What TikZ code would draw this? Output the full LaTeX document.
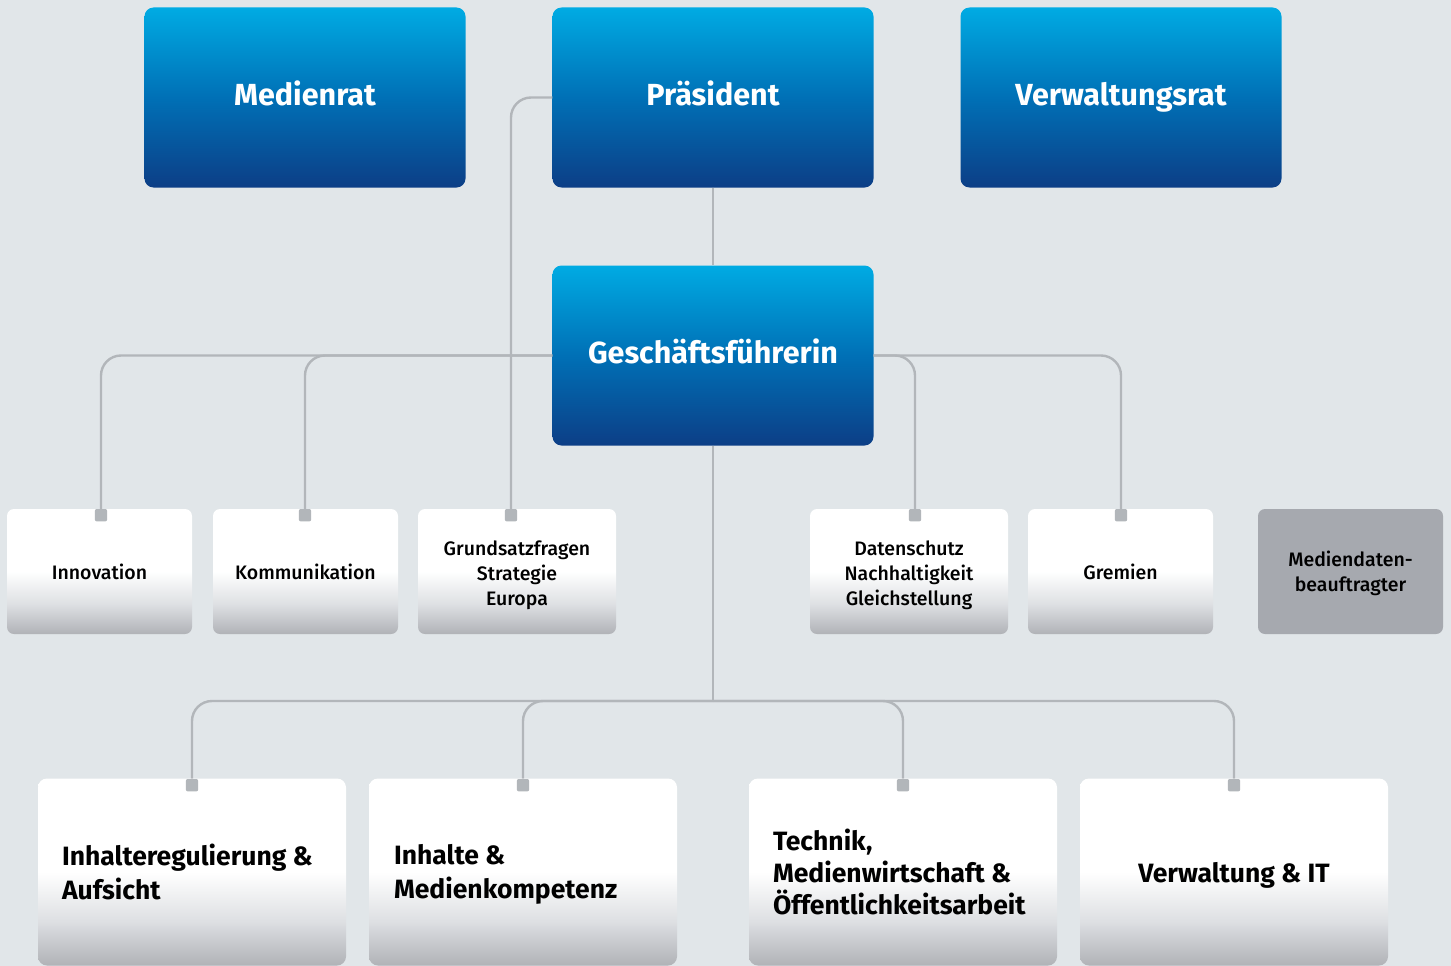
\documentclass[tikz,border=0pt]{standalone}
\usepackage{fontspec}
\setmainfont{Fira Sans}
\newfontfamily\firamed{Fira Sans Medium}
\definecolor{bg}{RGB}{225,230,233}
\definecolor{blueT}{RGB}{0,171,227}
\definecolor{blueM}{RGB}{0,112,182}
\definecolor{blueB}{RGB}{12,62,134}
\definecolor{lineC}{RGB}{178,182,186}
\definecolor{grayB}{RGB}{176,178,183}
\definecolor{grayM}{RGB}{222,224,227}
\definecolor{boxG}{RGB}{166,169,175}
\pgfdeclareverticalshading{blueshade}{100bp}{color(0bp)=(blueB); color(25bp)=(blueB); color(50bp)=(blueM); color(75bp)=(blueT); color(100bp)=(blueT)}
\pgfdeclareverticalshading{whiteshade}{100bp}{color(0bp)=(grayB); color(25bp)=(grayB); color(37bp)=(grayM); color(50bp)=(white); color(100bp)=(white)}
\begin{document}
\begin{tikzpicture}[x=1pt,y=-1pt,
  bluebox/.style={shading=blueshade, rounded corners=9pt, minimum width=321pt, minimum height=180pt, inner sep=0pt, text=white, text height=22pt, text depth=7pt, font=\bfseries\fontsize{30.5}{36}\selectfont},
  smallbox/.style={shading=whiteshade, rounded corners=7pt, minimum height=125pt, inner sep=0pt, align=center, font=\firamed\fontsize{19.5}{25}\selectfont},
  graybox/.style={fill=boxG, rounded corners=7pt, minimum height=125pt, minimum width=185pt, inner sep=0pt},
  smalltext/.style={inner sep=0pt, align=center, font=\firamed\fontsize{19.5}{25}\selectfont},
  bigbox/.style={shading=whiteshade, rounded corners=9pt, minimum width=308pt, minimum height=187pt, inner sep=0pt},
  bigtext/.style={align=left, inner sep=0pt, font=\bfseries\fontsize{26.5}{34}\selectfont},
  conn/.style={draw=lineC, line width=2.4pt, rounded corners=20pt},
  tabsq/.style={fill=lineC, rounded corners=2pt, minimum size=12pt, inner sep=0pt, anchor=north}]
\fill[bg] (0,0) rectangle (1451,966);
\useasboundingbox (0,0) rectangle (1451,966);
% top level
\node[bluebox] (MR) at (305,97.5) {Medienrat};
\node[bluebox] (PR) at (713,97.5) {Präsident};
\node[bluebox] (VR) at (1121,97.5) {Verwaltungsrat};
\node[bluebox] (GF) at (713,355.5) {Geschäftsführerin};
% tabs
\node[tabsq] (tIn) at (101,509) {};
\node[tabsq] (tKo) at (305,509) {};
\node[tabsq] (tGr) at (511,509) {};
\node[tabsq] (tDa) at (915,509) {};
\node[tabsq] (tGm) at (1121,509) {};
\node[tabsq] (tB1) at (192,779) {};
\node[tabsq] (tB2) at (523,779) {};
\node[tabsq] (tB3) at (903,779) {};
\node[tabsq] (tB4) at (1234,779) {};
\coordinate (hub) at (713,701);
% connectors
\draw[conn] (PR.south) -- (GF.north);
\draw[conn] (PR.west) -| (tGr.north);
\draw[conn] (GF.west) -| (tIn.north);
\draw[conn] (GF.west) -| (tKo.north);
\draw[conn] (GF.east) -| (tDa.north);
\draw[conn] (GF.east) -| (tGm.north);
\draw[conn] (GF.south) -- (hub);
\draw[conn] (hub) -| (tB1.north);
\draw[conn] (hub) -| (tB2.north);
\draw[conn] (hub) -| (tB3.north);
\draw[conn] (hub) -| (tB4.north);
% small boxes
\node[smallbox, minimum width=185pt] (In) at (99.5,571.5) {Innovation};
\node[smallbox, minimum width=185pt] (Ko) at (305.5,571.5) {Kommunikation};
\node[smallbox, minimum width=198pt] (Gr) at (517,571.5) {};
\node[smallbox, minimum width=198pt] (Da) at (909,571.5) {};
\node[smallbox, minimum width=185pt] (Gm) at (1120.5,571.5) {Gremien};
\node[graybox] (Md) at (1350.5,571.5) {};
\node[smalltext] (GrT) at ([yshift=-4pt]Gr.center) {Grundsatzfragen\\Strategie\\Europa};
\node[smalltext] (DaT) at ([yshift=-4pt]Da.center) {Datenschutz\\Nachhaltigkeit\\Gleichstellung};
\node[smalltext] (MdT) at ([yshift=-2pt]Md.center) {Mediendaten-\\beauftragter};
% bottom boxes
\node[bigbox] (B1) at (192,872) {};
\node[bigbox] (B2) at (523,872) {};
\node[bigbox] (B3) at (903,872) {};
\node[bigbox] (B4) at (1234,872) {};
\node[bigtext, anchor=west] (L1) at ([xshift=24pt]B1.west) {Inhalteregulierung \&\\Aufsicht};
\node[bigtext, anchor=west] (L2) at ([xshift=25pt,yshift=-2pt]B2.west) {Inhalte \&\\Medienkompetenz};
\node[bigtext, anchor=west, font=\bfseries\fontsize{26.5}{32}\selectfont] (L3) at ([xshift=24pt]B3.west) {Technik,\\Medienwirtschaft \&\\Öffentlichkeitsarbeit};
\node[bigtext, align=center] (L4) at ([yshift=-3pt]B4.center) {Verwaltung \& IT};
% tabs on top
\foreach \t in {tIn,tKo,tGr,tDa,tGm,tB1,tB2,tB3,tB4} {\fill[lineC, rounded corners=2pt] (\t.south west) rectangle (\t.north east);}
\end{tikzpicture}
\end{document}
